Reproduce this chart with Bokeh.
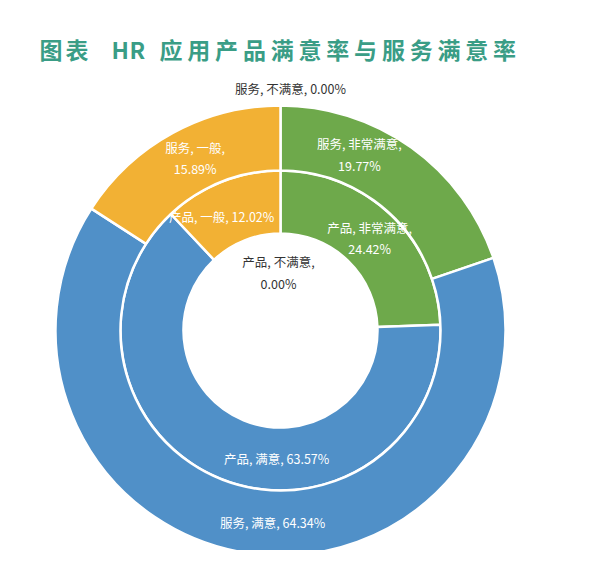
import math
from bokeh.plotting import figure
from bokeh.models import Range1d, ColumnDataSource
from bokeh.core.properties import value
from bokeh.embed import file_html
from bokeh.resources import INLINE

# ---- data ----
categories = ["非常满意", "满意", "一般", "不满意"]
product = [24.42, 63.57, 12.02, 0.00]
service = [19.77, 64.34, 15.89, 0.00]
series_names = ["产品", "服务"]
title_part1 = "图表"
title_part2 = "HR"
title_part3 = "应用产品满意率与服务满意率"

# ---- style / layout ----
colors = ["#6ea94b", "#5090c8", "#f2b134", "#a5a5a5"]
W, H = 576, 550
cx, cy = 280, 220
ring_radii = [(97, 160), (160, 225)]
label_frac = [[0.5, 0.41, 0.37, 0.5], [0.34, 0.48, 0.54, 0.5]]
FONT = value("Noto Sans CJK SC")

p = figure(width=W, height=H, x_range=Range1d(0, W), y_range=Range1d(0, H),
           output_backend="svg", toolbar_location=None, min_border=0)
p.axis.visible = False
p.grid.visible = False
p.outline_line_color = None
p.background_fill_color = "white"
p.border_fill_color = "white"

lx, ly, lt, lc = [], [], [], []
for si, (vals, (r0, r1)) in enumerate(zip([product, service], ring_radii)):
    total = sum(vals)
    cum = 0.0
    starts, ends, cols = [], [], []
    for ci, v in enumerate(vals):
        a0 = math.pi / 2 - cum / total * 2 * math.pi
        a1 = math.pi / 2 - (cum + v) / total * 2 * math.pi
        name = series_names[si]
        pct = f"{v:.2f}%"
        if v > 0:
            starts.append(a0); ends.append(a1); cols.append(colors[ci])
            f = label_frac[si][ci]
            am = math.pi / 2 - (cum + f * v) / total * 2 * math.pi
            rm = (r0 + r1) / 2
            lx.append(cx + rm * math.cos(am)); ly.append(cy + rm * math.sin(am))
            if v / total < 0.3 and not (si == 0 and ci == 2):
                lt.append(f"{name}, {categories[ci]},\n{pct}")
            else:
                lt.append(f"{name}, {categories[ci]}, {pct}")
            lc.append("white")
        else:
            am = math.pi / 2 - cum / total * 2 * math.pi
            if si == 0:
                lx.append(cx - 2); ly.append(cy + 0.6 * r0 * math.sin(am))
                lt.append(f"{name}, {categories[ci]},\n{pct}")
            else:
                lx.append(cx + 10 + (r1 + 17) * math.cos(am)); ly.append(cy + (r1 + 17) * math.sin(am))
                lt.append(f"{name}, {categories[ci]}, {pct}")
            lc.append("#333333")
        cum += v
    src = ColumnDataSource(dict(s=starts, e=ends, c=cols))
    p.annular_wedge(x=cx, y=cy, inner_radius=r0, outer_radius=r1,
                    start_angle="s", end_angle="e", direction="clock",
                    fill_color="c", line_color="white", line_width=2.5, source=src)

lsrc = ColumnDataSource(dict(x=lx, y=ly, t=lt, c=lc))
p.text(x="x", y="y", text="t", text_color="c", text_font=FONT, text_font_size="12.5px",
       text_align="center", text_baseline="middle", text_line_height=1.15, source=lsrc)

# title, laid out character by character for its wide spacing
tx, tt = [], []
for i, ch in enumerate(title_part1):
    tx.append(39 + i * 26); tt.append(ch)
for i, ch in enumerate(title_part2):
    tx.append(111 + i * 18); tt.append(ch)
for i, ch in enumerate(title_part3):
    tx.append(159 + i * 27.8); tt.append(ch)
p.text(x=tx, y=[502] * len(tx), text=tt, text_color="#3a9d86", text_font=FONT,
       text_font_size="23px", text_font_style="bold", text_align="left",
       text_baseline="middle")

open("out.html", "w").write(file_html(p, INLINE))
